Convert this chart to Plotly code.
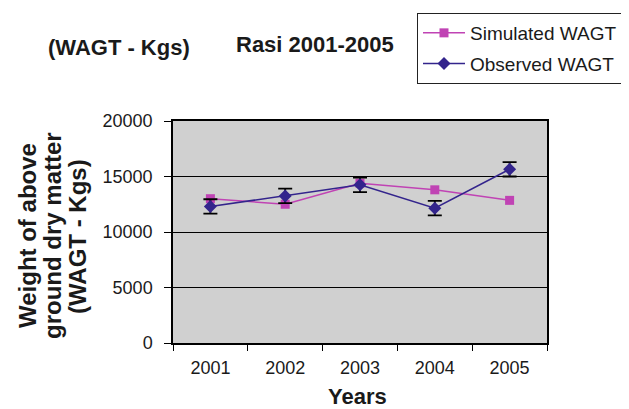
import plotly.graph_objects as go

years = ["2001", "2002", "2003", "2004", "2005"]
simulated = [13000, 12500, 14400, 13800, 12850]
observed = [12300, 13250, 14250, 12150, 15650]
observed_err = [650, 650, 650, 650, 650]

FONT = "Liberation Sans, Arial, Helvetica, sans-serif"
SIM_COLOR = "#c043b4"
OBS_COLOR = "#33248c"

# page body has an 8px default margin; lay out in window pixels and offset
OFF = 8
WIN_W, WIN_H = 629, 409
W, H = WIN_W - OFF, WIN_H - OFF
L, R, T, B = 173 - OFF, 82, 121 - OFF, 66
pw, ph = W - L - R, H - T - B

def px(x):
    return (x - OFF - L) / pw

def py(y):
    return (H - B - (y - OFF)) / ph

fig = go.Figure()
fig.add_trace(go.Scatter(
    x=years, y=simulated, name="Simulated WAGT", mode="lines+markers",
    line=dict(color=SIM_COLOR, width=1.5),
    marker=dict(symbol="square", size=9, color=SIM_COLOR),
    legendgroup="a",
))
fig.add_trace(go.Scatter(
    x=years, y=observed, name="Observed WAGT", mode="lines+markers",
    line=dict(color=OBS_COLOR, width=1.5),
    marker=dict(symbol="diamond", size=10, color=OBS_COLOR),
    error_y=dict(type="data", array=observed_err, visible=True,
                 color="black", thickness=1.8, width=7),
    legendgroup="b",
))

annotations = [
    dict(text="<b>(WAGT - Kgs)</b>", x=px(119), y=py(47), font=dict(size=22)),
    dict(text="<b>Rasi 2001-2005</b>", x=px(315), y=py(44), font=dict(size=22)),
    dict(text="<b>Years</b>", x=px(357), y=py(396), font=dict(size=22)),
    dict(text="<b>Weight of above</b>", x=px(27), y=py(236), font=dict(size=24), textangle=-90),
    dict(text="<b>ground dry matter</b>", x=px(52), y=py(236), font=dict(size=24), textangle=-90),
    dict(text="<b>(WAGT - Kgs)</b>", x=px(77), y=py(236), font=dict(size=24), textangle=-90),
]
for a in annotations:
    a.update(xref="paper", yref="paper", showarrow=False,
             xanchor="center", yanchor="middle")
    a["font"].update(family=FONT, color="#1a1a1a")

fig.update_layout(
    width=W, height=H,
    margin=dict(l=L, r=R, t=T, b=B, pad=0, autoexpand=False),
    paper_bgcolor="white",
    plot_bgcolor="#d0d0d0",
    font=dict(family=FONT, size=18, color="#1a1a1a"),
    showlegend=True,
    legend=dict(
        xref="container", yref="container",
        x=(417 - OFF) / W, y=1 - (13 - OFF) / H, xanchor="left", yanchor="top",
        bgcolor="white", bordercolor="#222", borderwidth=1,
        font=dict(size=19, family=FONT, color="#1a1a1a"),
        tracegroupgap=3, itemwidth=42,
    ),
    annotations=annotations,
)
fig.update_xaxes(
    type="category", range=[-0.5, 4.5], tickson="boundaries",
    ticks="outside", ticklen=6, tickcolor="black",
    showline=True, linecolor="black", linewidth=1.5, mirror=True,
    showgrid=False, ticklabelstandoff=8,
)
fig.update_yaxes(
    range=[0, 20000], tickvals=[0, 5000, 10000, 15000, 20000],
    tickformat="d",
    ticks="outside", ticklen=7, tickcolor="black",
    showline=True, linecolor="black", linewidth=1.5, mirror=True,
    showgrid=True, gridcolor="black", gridwidth=1, zeroline=False,
    ticklabelstandoff=8,
)

fig.write_html("out.html")
